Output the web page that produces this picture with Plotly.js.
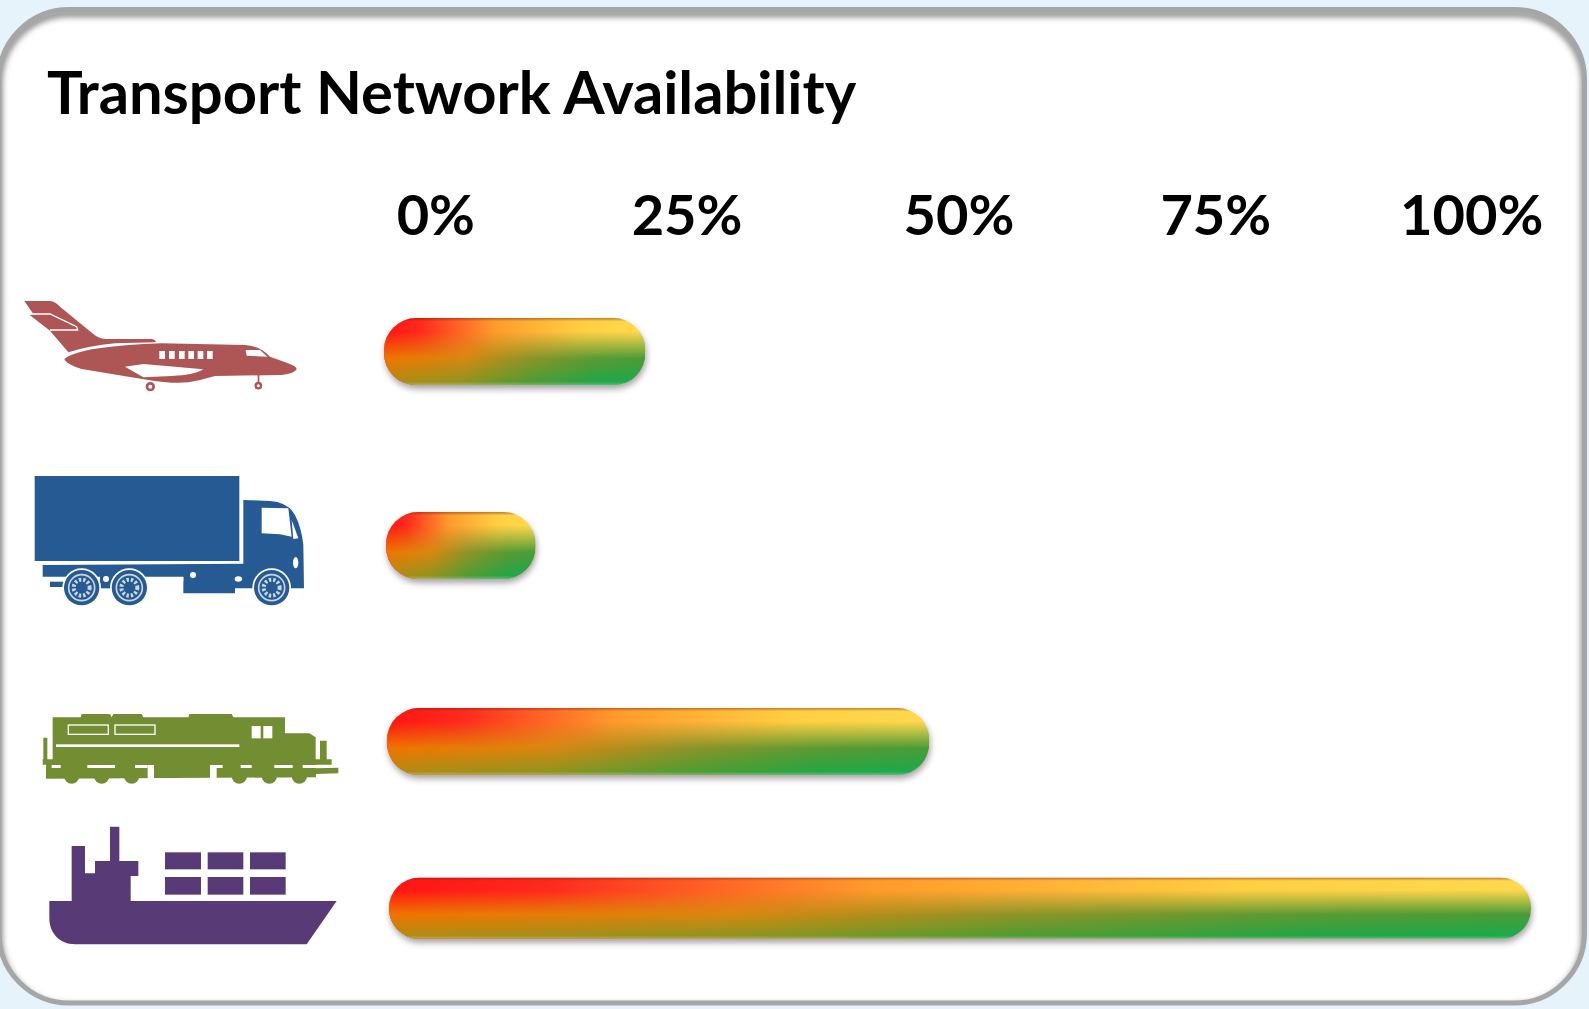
<!DOCTYPE html>
<html><head><meta charset="utf-8">
<script src="https://cdn.plot.ly/plotly-3.0.1.min.js"></script>
<style>html,body{margin:0;padding:0;background:#e6f3fb;overflow:hidden}#chart{width:1589px;height:1009px}</style>
</head><body><div id="chart"></div>
<script>
// ---- data ----
const transportModes = ["Air", "Road", "Rail", "Sea"];
const availability   = [22.9, 13.1, 47.5, 100];
const barStart       = [-0.44, -0.26, -0.18, 0];
const rowPosition    = [0, 1, 2.01, 2.87];
const rowThickness   = [0.345, 0.345, 0.345, 0.314];
const tickLabels     = ["0%", "25%", "50%", "75%", "100%"];
const tickPositions  = [4.1, 26.1, 49.9, 72.4, 94.8];
const chartTitle     = "Transport Network Availability";

// ---- decoration: card and icons, as inline SVG images ----
const W = 1589, H = 1009;
const svgUri = s => "data:image/svg+xml;charset=utf-8," + encodeURIComponent(s);
const cardRect = 'x="-1" y="9.5" width="1585.5" height="993.5" rx="70" ry="70"';
const cardSvg = `<svg xmlns="http://www.w3.org/2000/svg" width="${W}" height="${H}" viewBox="0 0 ${W} ${H}">
<defs><clipPath id="c"><rect ${cardRect}/></clipPath><filter id="b" x="-5%" y="-5%" width="110%" height="110%"><feGaussianBlur stdDeviation="3"/></filter></defs>
<rect ${cardRect} fill="#ffffff"/>
<g clip-path="url(#c)"><rect ${cardRect} transform="translate(0,4)" fill="none" stroke="#777" stroke-width="6" filter="url(#b)"/></g>
<rect ${cardRect} fill="none" stroke="#a6a6a6" stroke-width="5"/>
</svg>`;
const iconSvg = (w, h, body) => `<svg xmlns="http://www.w3.org/2000/svg" width="${w}" height="${h}" viewBox="0 0 ${w} ${h}"><defs><filter id="s" x="-2%" y="-2%" width="104%" height="104%"><feGaussianBlur stdDeviation="1.6"/></filter></defs><g filter="url(#s)">${body}</g></svg>`;

const planeBody = `<g fill="#ad5755">
<path d="M28,33 L105,33 Q122,35 135,50 L235,132 Q250,145 272,147 L410,147 Q424,150 422,157 L300,160 Q220,168 160,187 L105,122 L45,76 L55,72Z"/>
<path d="M148,208 Q160,193 230,178 Q330,163 440,160 L690,165 Q735,168 765,200 L815,218 Q845,228 845,238 Q840,250 800,255 L600,258 Q560,270 520,277 Q470,282 400,270 Q290,252 200,237 Q155,224 148,208Z"/>
<rect x="728" y="255" width="5" height="22"/></g>
<path d="M50,72 L105,72 L185,110 L188,120 L105,120" fill="none" stroke="#fff" stroke-width="4"/>
<g fill="#fff"><rect x="433" y="183" width="17" height="24"/><rect x="462" y="183" width="17" height="24"/><rect x="492" y="183" width="17" height="24"/><rect x="520" y="183" width="17" height="24"/><rect x="548" y="183" width="17" height="24"/><rect x="576" y="183" width="17" height="24"/>
<path d="M692,180 L735,180 L757,200 L695,197Z"/><path d="M330,230 L385,222 L565,238 Q540,255 470,258 L385,262Z"/></g>
<circle cx="730" cy="287" r="8" fill="none" stroke="#ad5755" stroke-width="7"/><circle cx="406" cy="290" r="10" fill="none" stroke="#ad5755" stroke-width="8"/>`;

const wheel = (x) => `<circle cx="${x}" cy="368" r="58" fill="#fff"/><circle cx="${x}" cy="368" r="53" fill="#285a92"/><circle cx="${x}" cy="368" r="39" fill="none" stroke="#c9d7e6" stroke-width="5"/><circle cx="${x}" cy="368" r="24" fill="none" stroke="#c9d7e6" stroke-width="12" stroke-dasharray="7 6"/>`;
const truckBody = `<g fill="#285a92"><rect x="14" y="33" width="614" height="255"/>
<path d="M640,105 L720,108 Q775,112 795,150 Q815,190 820,240 L822,370 L780,370 L660,370 L615,370 L615,385 L460,385 L460,335 L38,335 L38,300 L640,296Z"/>
<rect x="60" y="350" width="60" height="16"/><rect x="210" y="330" width="40" height="40"/></g>
<g fill="#fff"><rect x="365" y="336" width="95" height="14"/><path d="M695,128 L775,130 L785,215 L750,208 L695,205Z"/><path d="M785,165 L805,220 L790,222Z"/><circle cx="489" cy="330" r="9"/><ellipse cx="625" cy="342" rx="11" ry="8"/><ellipse cx="797" cy="293" rx="8" ry="17"/></g>
${wheel(155)}${wheel(298)}<circle cx="228" cy="342" r="9" fill="#fff"/>${wheel(725)}`;

const railWheel = x => `<circle cx="${x}" cy="228" r="23" fill="#728d32"/>`;
const trainBody = `<path fill="#728d32" d="M68,52 L152,52 L155,42 L240,42 L245,52 L250,42 L335,42 L340,52 L475,52 L478,42 L605,42 L610,52 L765,52 L765,100 L838,100 L857,112 L857,178 L870,178 L870,122 L890,122 L890,178 L905,178 L905,194 L858,194 L858,205 L925,203 L925,220 L858,222 L858,232 L48,236 L48,194 L38,194 L38,178 L40,178 L40,113 L52,113 L52,178 L68,178Z"/>
${[125,215,305,628,718,808].map(railWheel).join("")}
<g fill="#fff"><rect x="65" y="195" width="27" height="9"/><rect x="172" y="195" width="83" height="9"/><rect x="315" y="195" width="38" height="9"/><rect x="632" y="195" width="33" height="9"/><rect x="733" y="195" width="55" height="9"/><rect x="818" y="195" width="40" height="9"/>
<rect x="353" y="195" width="19" height="46"/><rect x="540" y="195" width="38" height="9"/><rect x="540" y="195" width="20" height="46"/><rect x="665" y="78" width="27" height="37"/><rect x="700" y="78" width="27" height="37"/><rect x="78" y="133" width="550" height="8"/></g>
<g fill="none" stroke="#fff" stroke-width="4"><rect x="115" y="75" width="120" height="28"/><rect x="255" y="75" width="120" height="28"/></g>`;

const shipBody = `<g fill="#593b76"><path d="M28,243 L95,243 L95,78 L135,78 L135,160 L165,160 L165,123 L210,123 L210,20 L238,20 L238,123 L295,123 L295,168 L272,168 L272,243 L890,243 L800,373 L105,373 C60,373 28,340 28,295Z"/>
<rect x="375" y="97" width="108" height="51"/><rect x="503" y="97" width="107" height="51"/><rect x="630" y="97" width="107" height="51"/>
<rect x="375" y="171" width="108" height="53"/><rect x="503" y="171" width="107" height="53"/><rect x="630" y="171" width="107" height="53"/></g>`;

const placeImage = (source, px, py, pw, ph) => ({
  source, xref: "paper", yref: "paper", x: px / W, y: 1 - py / H,
  sizex: pw / W, sizey: ph / H, xanchor: "left", yanchor: "top",
  sizing: "stretch", layer: "below"
});
const images = [
  placeImage(svgUri(cardSvg), 0, 0, W, H),
  placeImage(svgUri(iconSvg(900, 330, planeBody)), 15, 290, 300, 110),
  placeImage(svgUri(iconSvg(870, 435, truckBody)), 30, 465, 290, 145),
  placeImage(svgUri(iconSvg(960, 300, trainBody)), 30, 700, 320, 100),
  placeImage(svgUri(iconSvg(930, 405, shipBody)), 40, 820, 310, 135)
];

// ---- chart ----
const fontFamily = "Lato, 'Open Sans', sans-serif";
const trace = {
  type: "bar", orientation: "h",
  x: availability, y: rowPosition, base: barStart, width: rowThickness,
  text: transportModes, textposition: "none",
  hovertemplate: "%{text}: %{x}%<extra></extra>",
  marker: { color: "#ff9a20", line: { width: 0 }, cornerradius: 32 }
};
const layout = {
  width: W, height: H, showlegend: false,
  margin: { l: 0, r: 0, t: 0, b: 0 },
  paper_bgcolor: "#e6f3fb", plot_bgcolor: "rgba(0,0,0,0)",
  images,
  title: { text: chartTitle, x: 47 / W, xref: "paper", xanchor: "left", y: 1 - 113.5 / H, yref: "paper", yanchor: "bottom",
           font: { family: fontFamily, size: 59.7, color: "#000", weight: 700 } },
  xaxis: { side: "top", range: [-2, 102], domain: [366.16 / W, 1553.84 / W], fixedrange: true,
           tickmode: "array", tickvals: tickPositions, ticktext: tickLabels, ticks: "", showgrid: false, zeroline: false, showline: false,
           tickfont: { family: fontFamily, size: 56, color: "#000", weight: 700 }, automargin: false },
  yaxis: { range: [3.137, -0.539], domain: [1 - 960 / H, 1 - 247 / H], visible: false, fixedrange: true, showgrid: false, zeroline: false }
};

// ---- the glossy two-way gradient on the bars ----
const NS = "http://www.w3.org/2000/svg";
function el(name, attrs, kids) {
  const e = document.createElementNS(NS, name);
  Object.entries(attrs || {}).forEach(([k, v]) => e.setAttribute(k, v));
  (kids || []).forEach(k => e.appendChild(k));
  return e;
}
const hGrad = (id, stops) => el("linearGradient", { id, x1: 0, y1: 0, x2: 1, y2: 0 },
  stops.map(([o, c]) => el("stop", { offset: o, "stop-color": c })));
const vMask = (id, stops) => {
  const g = el("linearGradient", { id: id + "g", x1: 0, y1: 0, x2: 0, y2: 1 },
    stops.map(([o, a]) => el("stop", { offset: o, "stop-color": "#fff", "stop-opacity": a })));
  const m = el("mask", { id, maskContentUnits: "objectBoundingBox", x: 0, y: 0, width: 1, height: 1 },
    [el("rect", { x: 0, y: 0, width: 1, height: 1, fill: `url(#${id}g)` })]);
  return [g, m];
};
function gloss(gd) {
  const svg = gd.querySelector("svg.main-svg");
  const defs = el("defs");
  defs.appendChild(hGrad("gTop", [[0, "#ff1414"], [0.14, "#ff2a1e"], [0.42, "#ff9a2c"], [0.75, "#ffcf42"], [1, "#ffd94e"]]));
  defs.appendChild(hGrad("gMid", [[0, "#f07400"], [0.3, "#d88810"], [0.55, "#8e9428"], [0.8, "#5c9a34"], [1, "#4a9c38"]]));
  defs.appendChild(hGrad("gBot", [[0, "#b08c14"], [0.3, "#8c9420"], [0.55, "#4e9c34"], [0.8, "#22a646"], [1, "#18ab50"]]));
  vMask("mMid", [[0.2, 0], [0.6, 1], [1, 1]]).forEach(n => defs.appendChild(n));
  vMask("mBot", [[0.6, 0], [0.97, 1]]).forEach(n => defs.appendChild(n));
  defs.appendChild(el("linearGradient", { id: "gShade", x1: 0, y1: 0, x2: 0, y2: 1 }, [
    el("stop", { offset: 0, "stop-color": "#7a1a00", "stop-opacity": 0.45 }),
    el("stop", { offset: 0.05, "stop-color": "#7a1a00", "stop-opacity": 0 }),
    el("stop", { offset: 0.95, "stop-color": "#ffffff", "stop-opacity": 0 }),
    el("stop", { offset: 1, "stop-color": "#ffffff", "stop-opacity": 0.25 })
  ]));
  svg.insertBefore(defs, svg.firstChild);
  gd.querySelectorAll(".barlayer .point path").forEach(p => {
    p.style.fill = "url(#gTop)";
    p.style.filter = "drop-shadow(1px 4px 3px rgba(60,50,60,0.45))";
    const parent = p.parentNode;
    [["gMid", "mMid"], ["gBot", "mBot"], ["gShade", null]].forEach(([g, m]) => {
      const c = p.cloneNode(true);
      c.style.fill = `url(#${g})`;
      c.style.filter = "none";
      if (m) c.setAttribute("mask", `url(#${m})`);
      parent.appendChild(c);
    });
  });
}
Plotly.newPlot("chart", [trace], layout, { displayModeBar: false, responsive: false }).then(gloss);
</script></body></html>
